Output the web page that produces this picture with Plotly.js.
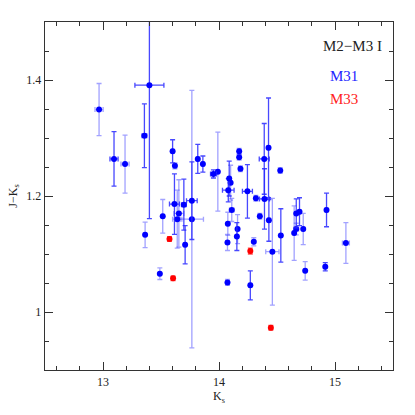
<!DOCTYPE html>
<html>
<head>
<meta charset="utf-8">
<script src="https://cdn.plot.ly/plotly-3.0.1.min.js"></script>
<style>html,body{margin:0;padding:0;background:#fff;}#chart{width:415px;height:415px;}</style>
</head>
<body>
<div id="chart"></div>
<script>
// M31 points with darker error bars
const darkK   = [13.095,13.357,13.40,13.60,13.616,13.697,13.708,13.766,13.817,13.861,13.952,14.245,14.39,14.392,14.427,14.43,14.27,14.533,14.927,14.916,14.694,14.666,14.08,14.088,14.154];
const darkJK  = [1.264,1.304,1.391,1.277,1.186,1.185,1.116,1.192,1.264,1.255,1.238,1.208,1.264,1.195,1.283,1.158,1.046,1.132,1.176,1.078,1.173,1.170,1.210,1.230,1.130];
const darkXE  = [0.035,0.02,0.125,0.01,0.043,0.02,0.01,0.046,0.01,0.01,0.025,0.043,0.043,0.043,0.01,0.01,0.01,0.01,0.01,0.01,0.01,0.01,0.05,0.01,0.01];
const darkYE  = [0.047,0.055,0.23,0.02,0.052,0.044,0.033,0.067,0.025,0.014,0.007,0.046,0.061,0.052,0.086,0.036,0.025,0.046,0.029,0.007,0.024,0.025,0.02,0.03,0.024];

// M31 points with lighter error bars
const lightK  = [12.966,13.19,13.363,13.515,13.49,13.654,13.64,13.766,13.99,14.10,14.11,14.076,14.073,14.16,14.174,14.174,14.185,14.318,14.352,14.30,14.073,14.46,14.528,14.648,14.666,14.726,14.743,15.094,13.62];
const lightJK = [1.349,1.255,1.133,1.165,1.066,1.170,1.160,1.160,1.242,1.223,1.176,1.152,1.120,1.143,1.277,1.267,1.247,1.196,1.165,1.121,1.051,1.104,1.244,1.136,1.143,1.143,1.071,1.119,1.252];
const lightXE = [0.035,0.035,0.01,0.01,0.01,0.043,0.04,0.1,0.01,0.01,0.02,0.01,0.01,0.01,0.01,0.01,0.01,0.01,0.01,0.01,0.01,0.057,0.01,0.01,0.02,0.01,0.01,0.03,0.01];
const lightYE = [0.045,0.05,0.022,0.029,0.01,0.058,0.05,0.222,0.068,0.03,0.02,0.02,0.014,0.025,0.005,0.005,0.005,0.005,0.005,0.007,0.005,0.092,0.005,0.047,0.01,0.027,0.016,0.035,0.005];

// M33 points
const m33K  = [13.573,13.604,14.27,14.447];
const m33JK = [1.126,1.058,1.105,0.973];
const m33XE = [0.01,0.01,0.01,0.01];
const m33YE = [0.004,0.004,0.005,0.004];

const serif = "Liberation Serif, DejaVu Serif, serif";

function trace(x, y, xe, ye, mcol, ecol) {
  return {
    x: x, y: y, type: 'scatter', mode: 'markers',
    marker: {color: mcol, size: 6},
    error_x: {type: 'data', array: xe, visible: true, color: ecol, thickness: 1.3, width: 2.5},
    error_y: {type: 'data', array: ye, visible: true, color: ecol, thickness: 1.3, width: 2.5},
    showlegend: false, hoverinfo: 'x+y'
  };
}

const data = [
  trace(lightK, lightJK, lightXE, lightYE, '#0000ff', 'rgba(70,70,255,0.5)'),
  trace(darkK, darkJK, darkXE, darkYE, '#0000ff', 'rgba(40,40,255,0.85)'),
  trace(m33K, m33JK, m33XE, m33YE, '#ff0000', 'rgba(255,40,40,0.8)')
];

const axisCommon = {
  showgrid: false, zeroline: false, showline: true, linecolor: '#333', linewidth: 1.3,
  mirror: 'allticks', ticks: 'inside', ticklen: 8, tickwidth: 1, tickcolor: '#333',
  tickfont: {family: serif, size: 12, color: '#222'}
};

const layout = {
  width: 415, height: 415,
  margin: {l: 45, r: 22, t: 22, b: 45},
  paper_bgcolor: '#fff', plot_bgcolor: '#fff',
  xaxis: Object.assign({}, axisCommon, {
    range: [12.5, 15.5], tick0: 13, dtick: 1,
    minor: {dtick: 0.2, tick0: 13, ticklen: 4, ticks: 'inside', tickcolor: '#333'},
    title: {text: 'K<sub>s</sub>', font: {family: serif, size: 12, color: '#222'}, standoff: 4}
  }),
  yaxis: Object.assign({}, axisCommon, {
    range: [0.9, 1.5], tick0: 1, dtick: 0.2,
    minor: {dtick: 0.05, tick0: 1, ticklen: 4, ticks: 'inside', tickcolor: '#333'},
    title: {text: 'J\u2212K<sub>s</sub>', font: {family: serif, size: 12, color: '#222'}, standoff: 6}
  }),
  annotations: [
    {xref: 'paper', yref: 'paper', x: 0.975, y: 0.93, xanchor: 'right', yanchor: 'middle', showarrow: false,
     text: 'M2\u2212M3 I', font: {family: serif, size: 15, color: '#222'}},
    {xref: 'paper', yref: 'paper', x: 0.905, y: 0.845, xanchor: 'right', yanchor: 'middle', showarrow: false,
     text: 'M31', font: {family: serif, size: 15, color: '#2222ff'}},
    {xref: 'paper', yref: 'paper', x: 0.905, y: 0.78, xanchor: 'right', yanchor: 'middle', showarrow: false,
     text: 'M33', font: {family: serif, size: 15, color: '#ff2222'}}
  ]
};

Plotly.newPlot('chart', data, layout, {displayModeBar: false, staticPlot: true});
</script>
</body>
</html>
